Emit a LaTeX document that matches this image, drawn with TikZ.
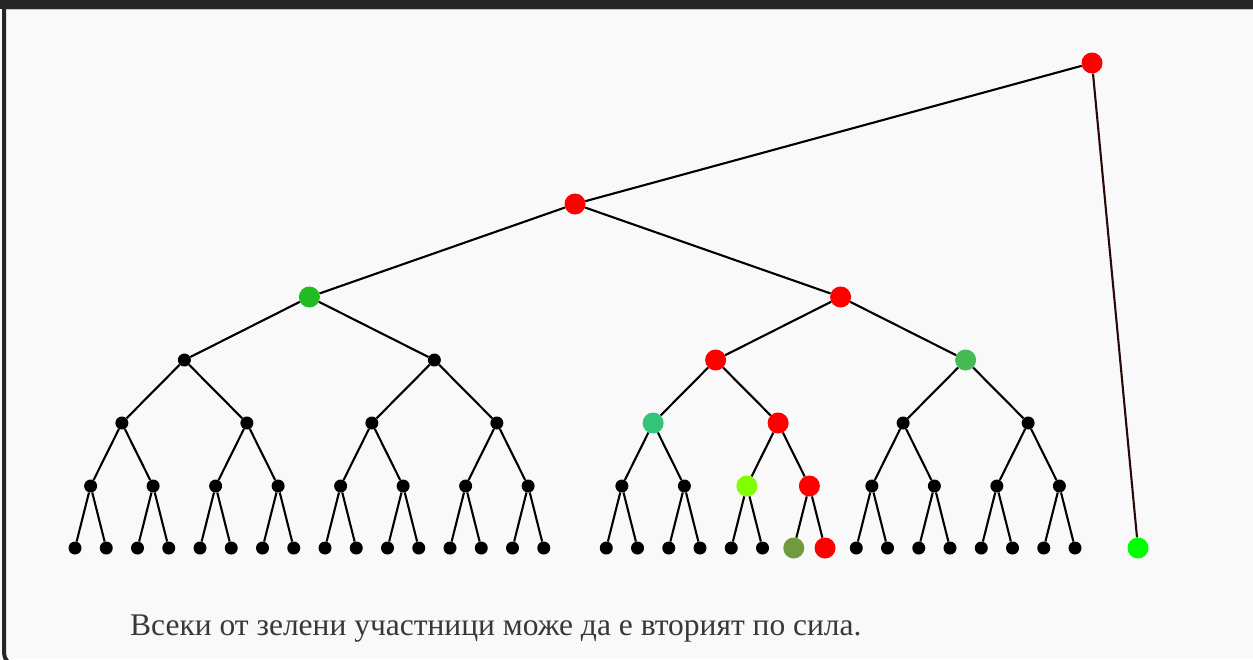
\documentclass[tikz,border=0pt]{standalone}
\usepackage{fontspec}
\setmainfont{Liberation Serif}
\definecolor{bgc}{HTML}{F9F9F9}
\definecolor{framec}{HTML}{262626}
\definecolor{redc}{HTML}{FF0000}
\definecolor{greenA}{HTML}{22BB22}
\definecolor{greenB}{HTML}{44BB55}
\definecolor{tealc}{HTML}{33C47A}
\definecolor{limec}{HTML}{80FF00}
\definecolor{olivec}{HTML}{6F9A3D}
\definecolor{brightg}{HTML}{00FF00}
\definecolor{darkedge}{HTML}{2A0808}
\definecolor{textc}{HTML}{383838}
\tikzset{
  bk/.style={circle, fill=black, inner sep=0pt, minimum size=13pt},
  big/.style={circle, inner sep=0pt, minimum size=21pt},
  rd/.style={big, fill=redc},
  gA/.style={big, fill=greenA},
  gB/.style={big, fill=greenB},
  tl/.style={big, fill=tealc},
  lm/.style={big, fill=limec},
  ol/.style={big, fill=olivec},
  bg/.style={big, fill=brightg},
  edge/.style={line width=2.1pt, black},
}
\begin{document}
\begin{tikzpicture}[x=1pt,y=-1pt]
\useasboundingbox (0,0) rectangle (1253,659);
\fill[bgc] (0,0) rectangle (1253,659);
\begin{scope}
  \clip (0,0) rectangle (1253,659);
  \draw[line width=4pt, framec, rounded corners=12pt] (4,-20) -- (4,665) -- (1300,665);
\end{scope}
\fill[framec] (0,0) rectangle (1253,9);
\draw[black!22, line width=1pt] (6,9.5) -- (1253,9.5);

% leaves
\foreach \j in {0,...,31}{
  \pgfmathsetmacro\x{75+31.25*(\j+(\j>15))}
  \def\st{bk}
  \ifnum\j=22 \def\st{ol}\fi
  \ifnum\j=23 \def\st{rd}\fi
  \node[\st] (L\j) at (\x,548) {};
}
% level 5
\foreach \k in {0,...,15}{
  \pgfmathsetmacro\x{75+31.25*(2*\k+0.5+(\k>7))}
  \def\st{bk}
  \ifnum\k=10 \def\st{lm}\fi
  \ifnum\k=11 \def\st{rd}\fi
  \node[\st] (F\k) at (\x,486) {};
  \pgfmathtruncatemacro\a{2*\k}
  \pgfmathtruncatemacro\b{2*\k+1}
  \draw[edge] (F\k) -- (L\a);
  \draw[edge] (F\k) -- (L\b);
}
% level 4
\foreach \m in {0,...,7}{
  \pgfmathsetmacro\x{75+31.25*(4*\m+1.5+(\m>3))}
  \def\st{bk}
  \ifnum\m=4 \def\st{tl}\fi
  \ifnum\m=5 \def\st{rd}\fi
  \node[\st] (D\m) at (\x,423) {};
  \pgfmathtruncatemacro\a{2*\m}
  \pgfmathtruncatemacro\b{2*\m+1}
  \draw[edge] (D\m) -- (F\a);
  \draw[edge] (D\m) -- (F\b);
}
% level 3
\foreach \n in {0,...,3}{
  \pgfmathsetmacro\x{75+31.25*(8*\n+3.5+(\n>1))}
  \def\st{bk}
  \ifnum\n=2 \def\st{rd}\fi
  \ifnum\n=3 \def\st{gB}\fi
  \node[\st] (C\n) at (\x,360) {};
  \pgfmathtruncatemacro\a{2*\n}
  \pgfmathtruncatemacro\b{2*\n+1}
  \draw[edge] (C\n) -- (D\a);
  \draw[edge] (C\n) -- (D\b);
}
% level 2
\node[gA] (B0) at (309.4,297) {};
\node[rd] (B1) at (840.6,297) {};
\draw[edge] (B0) -- (C0); \draw[edge] (B0) -- (C1);
\draw[edge] (B1) -- (C2); \draw[edge] (B1) -- (C3);
% level 1
\node[rd] (A) at (575,204) {};
\draw[edge] (A) -- (B0); \draw[edge] (A) -- (B1);
% root and extra leaf
\node[rd] (R) at (1092,63) {};
\node[bg] (G) at (1138,548) {};
\draw[edge] (R) -- (A);
\draw[edge, darkedge] (R) -- (G);

\node[anchor=base west, inner sep=0pt, text=textc, font=\fontsize{31.5}{36}\selectfont] (T) at (130,635)
  {Всеки от зелени участници може да е вторият по сила.};
\end{tikzpicture}
\end{document}
